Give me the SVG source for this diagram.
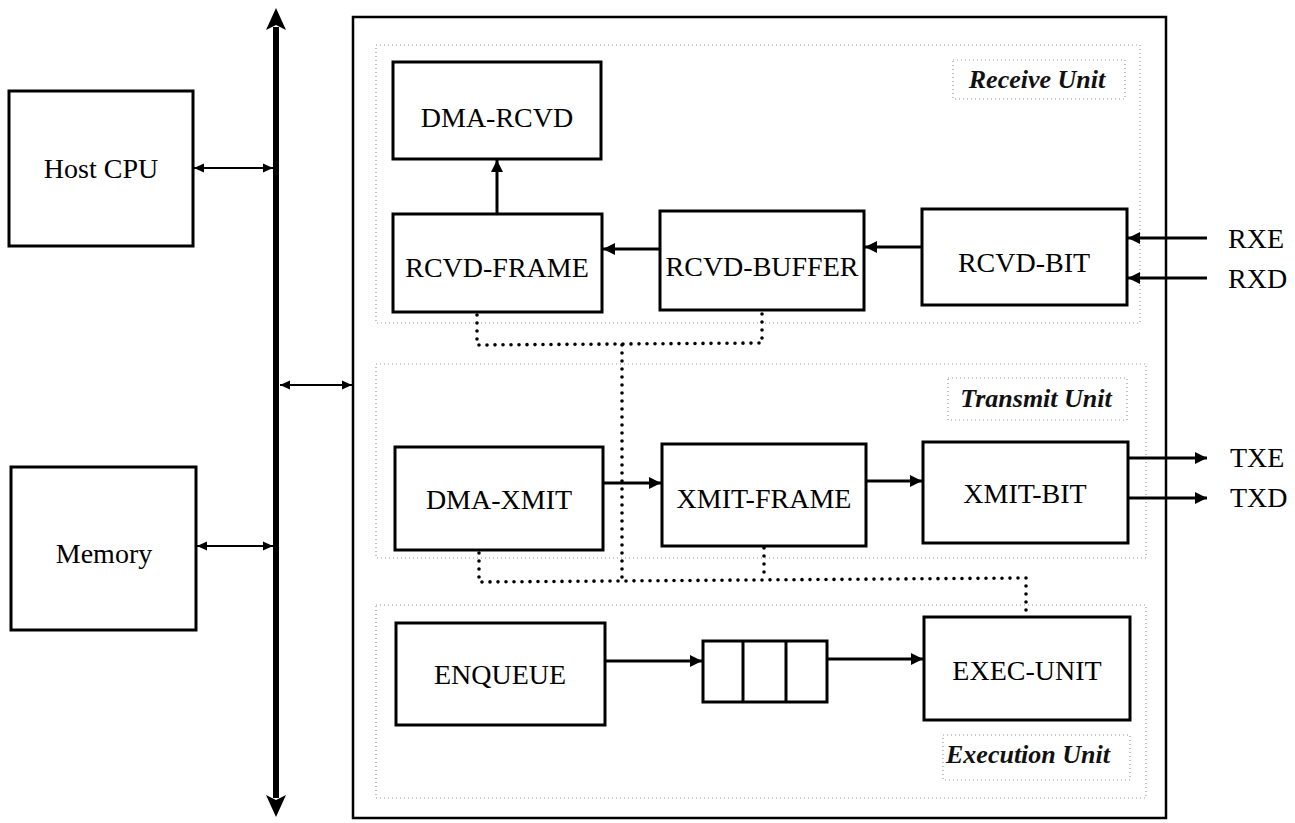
<svg xmlns="http://www.w3.org/2000/svg" width="1295" height="823" viewBox="0 0 1295 823">
<style>
.box{fill:#fff;stroke:#000;stroke-width:3}
.lbl{font-family:"Liberation Serif","Times New Roman",serif;font-size:28px;fill:#000;text-anchor:middle}
.sig{font-family:"Liberation Serif","Times New Roman",serif;font-size:28px;fill:#000}
.unit{font-family:"Liberation Serif","Times New Roman",serif;font-size:26px;font-style:italic;font-weight:bold;fill:#111;text-anchor:middle}
.region{fill:none;stroke:#999;stroke-width:1.2;stroke-dasharray:1 3}
.arr{fill:none;stroke:#000;stroke-width:3}
.thin{fill:none;stroke:#000;stroke-width:2}
.dot{fill:none;stroke:#000;stroke-width:3.6;stroke-linecap:round;stroke-dasharray:0 8}
</style>
<defs>
<marker id="ah" markerUnits="userSpaceOnUse" markerWidth="14" markerHeight="14" viewBox="0 0 14 14" refX="13" refY="7" orient="auto">
<path d="M1,1 L13,7 L1,13 Z" fill="#000"/>
</marker>
<marker id="ahs" markerUnits="userSpaceOnUse" markerWidth="12" markerHeight="12" viewBox="0 0 12 12" refX="11" refY="6" orient="auto-start-reverse">
<path d="M1,1.5 L11,6 L1,10.5 Z" fill="#000"/>
</marker>
</defs>

<g id="main-box">
<rect x="353" y="17" width="813" height="801" fill="none" stroke="#000" stroke-width="2.5"/>
</g>
<g id="receive-unit">
<rect class="region" x="376" y="45" width="764" height="278"/>
<rect class="region" x="953" y="60" width="172" height="39"/>
<text class="unit" x="1037" y="88">Receive Unit</text>
</g>
<g id="transmit-unit">
<rect class="region" x="376" y="364" width="770" height="194"/>
<rect class="region" x="948" y="378" width="179" height="42"/>
<text class="unit" x="1036" y="407">Transmit Unit</text>
</g>
<g id="execution-unit">
<rect class="region" x="376" y="605" width="770" height="193"/>
<rect class="region" x="943" y="735" width="187" height="45"/>
<text class="unit" x="1028" y="763">Execution Unit</text>
</g>

<g id="host-cpu"><rect class="box" x="9" y="91" width="184" height="155"/><text class="lbl" x="101" y="178">Host CPU</text></g>
<g id="memory"><rect class="box" x="11" y="467" width="185" height="163"/><text class="lbl" x="104" y="563">Memory</text></g>

<g id="dma-rcvd"><rect class="box" x="393" y="62" width="208" height="97"/><text class="lbl" x="497" y="127">DMA-RCVD</text></g>
<g id="rcvd-frame"><rect class="box" x="393" y="214" width="209" height="98"/><text class="lbl" x="497" y="277">RCVD-FRAME</text></g>
<g id="rcvd-buffer"><rect class="box" x="660" y="211" width="204" height="99"/><text class="lbl" x="762" y="276">RCVD-BUFFER</text></g>
<g id="rcvd-bit"><rect class="box" x="922" y="209" width="205" height="96"/><text class="lbl" x="1024" y="272">RCVD-BIT</text></g>

<g id="dma-xmit"><rect class="box" x="395" y="447" width="208" height="103"/><text class="lbl" x="499" y="509">DMA-XMIT</text></g>
<g id="xmit-frame"><rect class="box" x="662" y="444" width="204" height="102"/><text class="lbl" x="764" y="508">XMIT-FRAME</text></g>
<g id="xmit-bit"><rect class="box" x="923" y="442" width="205" height="101"/><text class="lbl" x="1025" y="503">XMIT-BIT</text></g>

<g id="enqueue"><rect class="box" x="396" y="623" width="209" height="102"/><text class="lbl" x="500" y="684">ENQUEUE</text></g>
<g id="queue">
<rect class="box" x="703" y="641" width="124" height="61"/>
<line x1="743" y1="641" x2="743" y2="702" stroke="#000" stroke-width="3"/>
<line x1="786" y1="641" x2="786" y2="702" stroke="#000" stroke-width="3"/>
</g>
<g id="exec-unit"><rect class="box" x="924" y="617" width="206" height="103"/><text class="lbl" x="1027" y="680">EXEC-UNIT</text></g>

<g id="signals">
<text class="sig" x="1228" y="248">RXE</text>
<text class="sig" x="1228" y="288">RXD</text>
<text class="sig" x="1230" y="467">TXE</text>
<text class="sig" x="1230" y="507">TXD</text>
</g>

<g id="connectors">
<line x1="276" y1="27" x2="276" y2="798" stroke="#000" stroke-width="6"/>
<path d="M276,8 L286,30 L276,25 L266,30 Z" fill="#000"/>
<path d="M276,817 L286,795 L276,800 L266,795 Z" fill="#000"/>
<line class="thin" x1="194" y1="168" x2="273" y2="168" marker-start="url(#ahs)" marker-end="url(#ahs)"/>
<line class="thin" x1="197" y1="546" x2="273" y2="546" marker-start="url(#ahs)" marker-end="url(#ahs)"/>
<line class="thin" x1="280" y1="385" x2="352" y2="385" marker-start="url(#ahs)" marker-end="url(#ahs)"/>

<line class="arr" x1="497" y1="214" x2="497" y2="160" marker-end="url(#ah)"/>
<line class="arr" x1="660" y1="249" x2="603" y2="249" marker-end="url(#ah)"/>
<line class="arr" x1="922" y1="247" x2="865" y2="247" marker-end="url(#ah)"/>
<line class="arr" x1="1207" y1="238" x2="1128" y2="238" marker-end="url(#ah)"/>
<line class="arr" x1="1207" y1="278" x2="1128" y2="278" marker-end="url(#ah)"/>

<line class="arr" x1="603" y1="483" x2="661" y2="483" marker-end="url(#ah)"/>
<line class="arr" x1="866" y1="481" x2="922" y2="481" marker-end="url(#ah)"/>
<line class="arr" x1="1128" y1="458" x2="1207" y2="458" marker-end="url(#ah)"/>
<line class="arr" x1="1128" y1="498" x2="1207" y2="498" marker-end="url(#ah)"/>

<line class="arr" x1="605" y1="661" x2="702" y2="661" marker-end="url(#ah)"/>
<line class="arr" x1="827" y1="659" x2="923" y2="659" marker-end="url(#ah)"/>

<path class="dot" d="M477,315 L477,345 L762,343 L762,313"/>
<path class="dot" d="M622,345 L622,580"/>
<path class="dot" d="M479,553 L479,582 L1026,578 L1026,614"/>
<path class="dot" d="M764,548 L764,580"/>
</g>
</svg>
